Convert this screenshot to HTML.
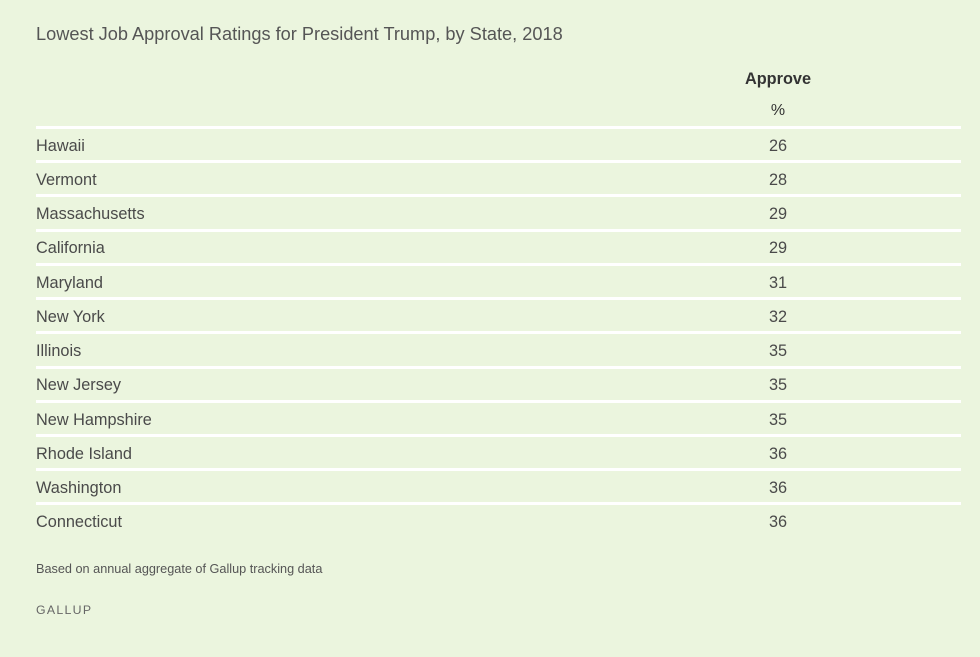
<!DOCTYPE html>
<html><head><style>
body{margin:0;width:980px;height:657px;background:#ebf5de;font-family:"Liberation Sans",sans-serif;color:#4a4a4a;position:relative;overflow:hidden}
.a{position:absolute;white-space:nowrap}
.l{position:absolute;left:36px;width:925px;height:3px;background:#fff}
.r{position:absolute;left:36px;font-size:16.3px;line-height:20px}
.v{position:absolute;left:748px;width:60px;text-align:center;font-size:16.3px;line-height:20px}
</style></head><body>
<div class="a" style="left:36px;top:24px;font-size:18.2px;color:#555">Lowest Job Approval Ratings for President Trump, by State, 2018</div>
<div class="a" style="left:738px;top:70px;width:80px;text-align:center;font-size:16.3px;font-weight:bold;color:#333">Approve</div>
<div class="a" style="left:748px;top:102px;width:60px;text-align:center;font-size:16px;color:#333">%</div>
<div class="l" style="top:126px"></div>
<div class="r" style="top:136px">Hawaii</div><div class="v" style="top:136px">26</div>
<div class="l" style="top:160px"></div>
<div class="r" style="top:170px">Vermont</div><div class="v" style="top:170px">28</div>
<div class="l" style="top:194px"></div>
<div class="r" style="top:204px">Massachusetts</div><div class="v" style="top:204px">29</div>
<div class="l" style="top:229px"></div>
<div class="r" style="top:238px">California</div><div class="v" style="top:238px">29</div>
<div class="l" style="top:263px"></div>
<div class="r" style="top:273px">Maryland</div><div class="v" style="top:273px">31</div>
<div class="l" style="top:297px"></div>
<div class="r" style="top:307px">New York</div><div class="v" style="top:307px">32</div>
<div class="l" style="top:331px"></div>
<div class="r" style="top:341px">Illinois</div><div class="v" style="top:341px">35</div>
<div class="l" style="top:366px"></div>
<div class="r" style="top:375px">New Jersey</div><div class="v" style="top:375px">35</div>
<div class="l" style="top:400px"></div>
<div class="r" style="top:410px">New Hampshire</div><div class="v" style="top:410px">35</div>
<div class="l" style="top:434px"></div>
<div class="r" style="top:444px">Rhode Island</div><div class="v" style="top:444px">36</div>
<div class="l" style="top:468px"></div>
<div class="r" style="top:478px">Washington</div><div class="v" style="top:478px">36</div>
<div class="l" style="top:502px"></div>
<div class="r" style="top:512px">Connecticut</div><div class="v" style="top:512px">36</div>
<div class="a" style="left:36px;top:562px;font-size:12.7px;color:#555">Based on annual aggregate of Gallup tracking data</div>
<div class="a" style="left:36px;top:603px;font-size:12.3px;letter-spacing:1.3px;color:#666">GALLUP</div>
</body></html>
